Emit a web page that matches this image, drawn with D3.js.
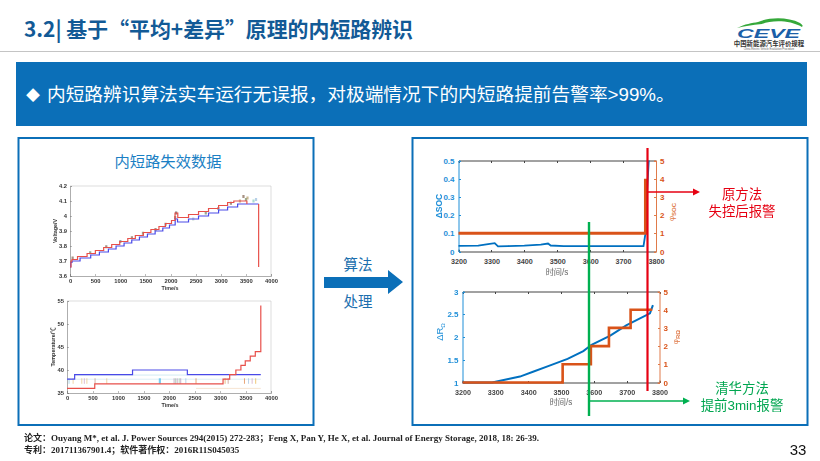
<!DOCTYPE html>
<html>
<head>
<meta charset="utf-8">
<script src="https://cdn.jsdelivr.net/npm/d3@7"></script>
<style>
body { margin: 0; background: #fff; }
svg { display: block; }
text { font-family: "Liberation Sans", "Noto Sans CJK SC", sans-serif; }
.tick line { shape-rendering: crispEdges; }
</style>
</head>
<body>
<div id="chart"></div>
<script>
// voltage plot (left top)
var voltTicksX = [0, 500, 1000, 1500, 2000, 2500, 3000, 3500, 4000];
var voltTicksY = [3.6, 3.7, 3.8, 3.9, 4, 4.1, 4.2];
var voltLowT = [0, 15, 40, 200, 412, 585, 764, 917, 1076, 1229, 1382, 1541, 1694, 1847, 1980, 2093, 2140, 2359, 2558, 2757, 2957, 3136, 3336, 3754];
var voltLowV = [3.66, 3.69, 3.70, 3.72, 3.74, 3.76, 3.78, 3.80, 3.82, 3.84, 3.86, 3.88, 3.90, 3.92, 3.94, 3.98, 3.96, 3.98, 4.00, 4.02, 4.04, 4.06, 4.08, 4.08];
var voltHighT = [0, 20, 40, 150, 340, 505, 670, 830, 990, 1150, 1300, 1460, 1610, 1770, 1900, 2020, 2090, 2145, 2359, 2558, 2757, 2957, 3136, 3260, 3520];
var voltHighV = [3.66, 3.70, 3.71, 3.73, 3.75, 3.77, 3.79, 3.81, 3.83, 3.85, 3.87, 3.89, 3.91, 3.93, 3.95, 3.97, 4.02, 3.99, 4.01, 4.03, 4.05, 4.07, 4.09, 4.10, 4.08];
var voltDropT = [3754, 3754];
var voltDropV = [4.08, 3.66];
var voltMarkT = [50, 400, 720, 1000, 1230, 1450, 1700, 1900, 2090, 2110, 2450, 2700, 2950, 3200, 3380, 3450, 3500, 3530, 3650, 3700];
var voltMarkV = [3.72, 3.755, 3.795, 3.83, 3.855, 3.885, 3.91, 3.945, 3.99, 4.02, 3.98, 4.02, 4.05, 4.085, 4.10, 4.13, 4.11, 4.12, 4.10, 4.11];
var voltMarkC = ["#8a6d5a", "#7a8f6a", "#8a6d5a", "#6f8f9a", "#8a6d5a", "#7a8f6a", "#8a6d5a", "#6f8f9a", "#8a6d5a", "#555555", "#b8d0c0", "#7a8f6a", "#6f8f9a", "#8a6d5a", "#b8a070", "#8a6d5a", "#7a8f6a", "#b8a070", "#8fd0c0", "#a0c0e0"];

// temperature plot (left bottom)
var tempTicksX = [0, 500, 1000, 1500, 2000, 2500, 3000, 3500, 4000];
var tempTicksY = [35, 40, 45, 50, 55];
var tempLowT = [0, 544, 3060, 3190, 3311, 3410, 3495, 3593, 3692, 3800];
var tempLowV = [36, 37, 38, 39, 40, 41, 42, 43, 44, 54];
var tempHighT = [0, 150, 1285, 2360, 3800];
var tempHighV = [38, 39, 40, 39, 39];
var tempFaintV = [38.9, 38, 36];
var tempFaintStart = [150, 0, 2530];
var tempFaintEnd = [2360, 3800, 3800];
var tempFaintC = ["#bfe3ee", "#cfe6f2", "#f2d9c0"];
var tempMarkT = [40, 120, 290, 340, 390, 550, 780, 1810, 1830, 2100, 2130, 2160, 2200, 2230, 2330, 2530, 3100, 3160, 3480, 3560, 3630, 3700];
var tempMarkC = ["#8fc8e0", "#e8c080", "#e8c080", "#d0a0c0", "#e8c080", "#c09080", "#e8c080", "#30b0e8", "#30b0e8", "#b090b0", "#a0c0a0", "#b090b0", "#a0c0a0", "#b090b0", "#a0c0e0", "#e08040", "#e0a050", "#c09080", "#e08040", "#a0c0e0", "#d0a0c0", "#e8b040"];

// delta SOC plot (right top)
var socTicksX = [3200, 3300, 3400, 3500, 3600, 3700, 3800];
var socTicksL = [0, 0.1, 0.2, 0.3, 0.4, 0.5];
var socTicksR = [0, 1, 2, 3, 4, 5];
var socT = [3200, 3260, 3290, 3310, 3320, 3350, 3400, 3450, 3472, 3480, 3520, 3600, 3700, 3762, 3768, 3772, 3778];
var socV = [0.031, 0.032, 0.040, 0.046, 0.028, 0.030, 0.032, 0.038, 0.044, 0.033, 0.030, 0.029, 0.030, 0.030, 0.10, 0.30, 0.50];
var phiSocT = [3200, 3768, 3768];
var phiSocV = [1, 1, 4];

// delta R plot (right bottom)
var resTicksX = [3200, 3300, 3400, 3500, 3600, 3700, 3800];
var resTicksL = [1, 1.5, 2, 2.5, 3];
var resTicksR = [0, 1, 2, 3, 4, 5];
var resT = [3200, 3290, 3375, 3461, 3520, 3568, 3593, 3650, 3700, 3771, 3780];
var resV = [1, 1, 1.13, 1.36, 1.52, 1.69, 1.83, 2.03, 2.26, 2.52, 2.7];
var phiResT = [3200, 3505, 3591, 3646, 3712, 3778];
var phiResV = [0, 1, 2, 3, 4, 4];

var blue = "#0070c0", orange = "#d95319", axisBlue = "#1f8fd8", axisOrange = "#e07b4a";
var red = "#e60012", green = "#00b050";
var cjkFirst = '"Noto Sans CJK SC", "Liberation Sans", sans-serif';

var svg = d3.select("#chart").append("svg").attr("width", 820).attr("height", 461);

svg.append("defs").html('<filter id="soft" x="-5%" y="-5%" width="110%" height="110%"><feGaussianBlur stdDeviation="0.3"/></filter>');

// header
svg.append("text").attr("x", 24).attr("y", 37).attr("font-size", 20.9).attr("font-weight", "bold")
    .attr("fill", "#125a96").style("font-family", cjkFirst).text("3.2| 基于“平均+差异”原理的内短路辨识");
svg.append("line").attr("x1", 0).attr("x2", 820).attr("y1", 51.5).attr("y2", 51.5).attr("stroke", "#c4c4c4");

// logo
svg.append("path").attr("d", "M737 28 C745 24 752 23 758 22 C770 17 788 17 800 23 C803 25 803 26 802 27 C790 20 772 20 762 24 C752 25 744 26 737 28 Z").attr("fill", "#35a83a");
svg.append("text").attr("x", 737).attr("y", 37.5).attr("font-size", 13).attr("font-style", "italic").attr("font-weight", "bold")
    .attr("fill", "#1b5fa8").attr("textLength", 63).attr("lengthAdjust", "spacingAndGlyphs").text("CEVE");
svg.append("text").attr("x", 769).attr("y", 46).attr("text-anchor", "middle").attr("font-size", 6.4).attr("font-weight", "bold")
    .attr("fill", "#333").text("中国新能源汽车评价规程");
svg.append("text").attr("x", 769).attr("y", 50.3).attr("text-anchor", "middle").attr("font-size", 2.6)
    .attr("fill", "#666").text("China Electric Vehicle Evaluation Procedure");

// blue band
svg.append("rect").attr("x", 16).attr("y", 62).attr("width", 791).attr("height", 64).attr("fill", "#0b6fb8");
svg.append("text").attr("x", 26).attr("y", 100).attr("font-size", 14).attr("fill", "#fff").text("◆");
svg.append("text").attr("x", 47).attr("y", 101).attr("font-size", 18.7).attr("fill", "#fff")
    .text("内短路辨识算法实车运行无误报，对极端情况下的内短路提前告警率>99%。");

// panels
[[18.5, 295], [412.5, 395]].forEach(function (p) {
    svg.append("rect").attr("x", p[0]).attr("y", 138).attr("width", p[1]).attr("height", 287)
        .attr("fill", "#fff").attr("stroke", "#0b6fb8").attr("stroke-width", 2);
});
svg.append("text").attr("x", 168).attr("y", 167).attr("text-anchor", "middle").attr("font-size", 15.3)
    .attr("fill", "#1b7fc4").text("内短路失效数据");

// middle arrow
svg.append("text").attr("x", 358).attr("y", 270).attr("text-anchor", "middle").attr("font-size", 14.5).attr("fill", "#1b6fae").text("算法");
svg.append("text").attr("x", 358).attr("y", 307).attr("text-anchor", "middle").attr("font-size", 14.5).attr("fill", "#1b6fae").text("处理");
svg.append("path").attr("d", "M324 277H388V270L403 282L388 294V288H324Z").attr("fill", "#0b6fb8");

// plot helper for the small left charts
function leftPlot(box, xDomain, yDomain, xTicks, yTicks) {
    var x = d3.scaleLinear().domain(xDomain).range([box.x0, box.x1]);
    var y = d3.scaleLinear().domain(yDomain).range([box.y1, box.y0]);
    var g = svg.append("g").attr("filter", "url(#soft)");
    g.append("g").attr("transform", `translate(0,${box.y1})`)
        .call(d3.axisBottom(x).tickValues(xTicks).tickSize(-2).tickPadding(3).tickFormat(d3.format("d")));
    g.append("g").attr("transform", `translate(${box.x0},0)`)
        .call(d3.axisLeft(y).tickValues(yTicks).tickSize(-2).tickPadding(3).tickFormat(d3.format("~g")));
    g.append("path").attr("d", `M${box.x0},${box.y0}H${box.x1}V${box.y1}`).attr("fill", "none").attr("stroke", "#bbb").attr("stroke-width", 0.5);
    g.selectAll(".domain").attr("stroke", "#777").attr("stroke-width", 0.6);
    g.selectAll(".tick line").attr("stroke", "#777").attr("stroke-width", 0.5);
    g.selectAll(".tick text").attr("font-size", 5.8).attr("font-weight", "bold").attr("fill", "#333");
    return { x: x, y: y, g: g };
}

function stepPath(p, ts, vs, color, width) {
    var line = d3.line().curve(d3.curveStepAfter).x(function (d) { return p.x(d[0]); }).y(function (d) { return p.y(d[1]); });
    p.g.append("path").attr("d", line(d3.zip(ts, vs))).attr("fill", "none").attr("stroke", color).attr("stroke-width", width);
}

// voltage
var vp = leftPlot({ x0: 70, x1: 271, y0: 186, y1: 276 }, [0, 4000], [3.6, 4.2], voltTicksX, voltTicksY);
vp.g.selectAll("rect.mark").data(d3.zip(voltMarkT, voltMarkV, voltMarkC)).enter().append("rect").attr("class", "mark")
    .attr("x", function (d) { return vp.x(d[0]) - 1; }).attr("y", function (d) { return vp.y(d[1]) - 1.5; })
    .attr("width", 2.2).attr("height", 3).attr("fill", function (d) { return d[2]; }).attr("opacity", 0.75);
stepPath(vp, voltLowT, voltLowV, "#4a4ae8", 1.2);
stepPath(vp, voltHighT, voltHighV, "#e8504a", 1.2);
stepPath(vp, voltDropT, voltDropV, "#e8504a", 1.2);
svg.append("text").attr("transform", "translate(57,231) rotate(-90)").attr("text-anchor", "middle")
    .attr("font-size", 5.4).attr("font-weight", "bold").attr("fill", "#333").text("Voltage/V");
svg.append("text").attr("x", 170).attr("y", 290).attr("text-anchor", "middle")
    .attr("font-size", 5.4).attr("font-weight", "bold").attr("fill", "#333").text("Time/s");

// temperature
var tp = leftPlot({ x0: 67, x1: 271, y0: 301, y1: 393 }, [0, 4000], [35, 55], tempTicksX, tempTicksY);
tp.g.selectAll("line.faint").data(d3.zip(tempFaintStart, tempFaintEnd, tempFaintV, tempFaintC)).enter().append("line").attr("class", "faint")
    .attr("x1", function (d) { return tp.x(d[0]); }).attr("x2", function (d) { return tp.x(d[1]); })
    .attr("y1", function (d) { return tp.y(d[2]); }).attr("y2", function (d) { return tp.y(d[2]); })
    .attr("stroke", function (d) { return d[3]; }).attr("stroke-width", 0.7);
tp.g.selectAll("line.mark").data(d3.zip(tempMarkT, tempMarkC)).enter().append("line").attr("class", "mark")
    .attr("x1", function (d) { return tp.x(d[0]); }).attr("x2", function (d) { return tp.x(d[0]); })
    .attr("y1", tp.y(37)).attr("y2", tp.y(38.2)).attr("stroke", function (d) { return d[1]; }).attr("stroke-width", 1).attr("opacity", 0.7);
stepPath(tp, tempHighT, tempHighV, "#4a4ae8", 1.2);
stepPath(tp, tempLowT, tempLowV, "#e8504a", 1.2);
svg.append("text").attr("transform", "translate(55,347) rotate(-90)").attr("text-anchor", "middle")
    .attr("font-size", 5.4).attr("font-weight", "bold").attr("fill", "#333").text("Temperature/℃");
svg.append("text").attr("x", 170).attr("y", 407).attr("text-anchor", "middle")
    .attr("font-size", 5.4).attr("font-weight", "bold").attr("fill", "#333").text("Time/s");

// two-axis plots on the right
function rightPlot(box, leftDomain, ticksL, ticksR, ticksX) {
    var x = d3.scaleLinear().domain([3200, 3800]).range([box.x0, box.x1]);
    var yL = d3.scaleLinear().domain(leftDomain).range([box.y1, box.y0]);
    var yR = d3.scaleLinear().domain([0, 5]).range([box.y1, box.y0]);
    var g = svg.append("g");
    var xAxis = g.append("g").attr("transform", `translate(0,${box.y1})`)
        .call(d3.axisBottom(x).tickValues(ticksX).tickSize(-2).tickPadding(7).tickFormat(d3.format("d")));
    g.append("g").attr("transform", `translate(0,${box.y0})`)
        .call(d3.axisTop(x).tickValues(ticksX).tickSize(-2).tickFormat(""))
        .selectAll(".domain,.tick line").attr("stroke", "#444");
    xAxis.selectAll(".domain,.tick line").attr("stroke", "#444");
    xAxis.selectAll("text").attr("font-size", 7.2).attr("font-weight", "bold").attr("fill", "#444");
    var left = g.append("g").attr("transform", `translate(${box.x0},0)`)
        .call(d3.axisLeft(yL).tickValues(ticksL).tickSize(-2).tickPadding(4).tickFormat(d3.format("~g")));
    left.selectAll(".domain,.tick line").attr("stroke", axisBlue);
    left.selectAll("text").attr("font-size", 8).attr("font-weight", "bold").attr("fill", axisBlue);
    var right = g.append("g").attr("transform", `translate(${box.x1},0)`)
        .call(d3.axisRight(yR).tickValues(ticksR).tickSize(-2).tickPadding(4).tickFormat(d3.format("d")));
    right.selectAll(".domain,.tick line").attr("stroke", axisOrange);
    right.selectAll("text").attr("font-size", 8).attr("font-weight", "bold").attr("fill", orange);
    return { x: x, yL: yL, yR: yR, g: g };
}

var sp = rightPlot({ x0: 458.5, x1: 656, y0: 160.5, y1: 251.5 }, [0, 0.5], socTicksL, socTicksR, socTicksX);
var socLine = d3.line().x(function (d) { return sp.x(d[0]); }).y(function (d) { return sp.yL(d[1]); });
var socPhiLine = d3.line().x(function (d) { return sp.x(d[0]); }).y(function (d) { return sp.yR(d[1]); });
sp.g.append("path").attr("d", socLine(d3.zip(socT, socV))).attr("fill", "none").attr("stroke", blue).attr("stroke-width", 1.8);
sp.g.append("path").attr("d", socPhiLine(d3.zip(phiSocT, phiSocV))).attr("fill", "none").attr("stroke", orange).attr("stroke-width", 3);

var rp = rightPlot({ x0: 462.5, x1: 659.5, y0: 291.5, y1: 382.5 }, [1, 3], resTicksL, resTicksR, resTicksX);
var resLine = d3.line().x(function (d) { return rp.x(d[0]); }).y(function (d) { return rp.yL(d[1]); });
var resPhiLine = d3.line().curve(d3.curveStepAfter).x(function (d) { return rp.x(d[0]); }).y(function (d) { return rp.yR(d[1]); });
rp.g.append("path").attr("d", resLine(d3.zip(resT, resV))).attr("fill", "none").attr("stroke", blue).attr("stroke-width", 2);
rp.g.append("path").attr("d", resPhiLine(d3.zip(phiResT, phiResV))).attr("fill", "none").attr("stroke", orange).attr("stroke-width", 2.6);

// axis titles
svg.append("text").attr("x", 557).attr("y", 275).attr("text-anchor", "middle").attr("font-size", 8.2).attr("fill", "#666").text("时间/s");
svg.append("text").attr("x", 561).attr("y", 405).attr("text-anchor", "middle").attr("font-size", 8.2).attr("fill", "#666").text("时间/s");
svg.append("text").attr("transform", "translate(442,206) rotate(-90)").attr("text-anchor", "middle").attr("font-size", 8.5).attr("font-weight", "bold").attr("fill", axisBlue).text("ΔSOC");
svg.append("text").attr("transform", "translate(443,332) rotate(-90)").attr("text-anchor", "middle").attr("font-size", 9.5).attr("fill", axisBlue).html('ΔR<tspan font-size="6" dy="1.5">Ω</tspan>');
svg.append("text").attr("transform", "translate(674,212) rotate(-90)").attr("text-anchor", "middle").attr("font-size", 8).attr("fill", axisOrange).html('φ<tspan font-size="6" font-weight="bold" dy="1.5">SOC</tspan>');
svg.append("text").attr("transform", "translate(678,337) rotate(-90)").attr("text-anchor", "middle").attr("font-size", 8).attr("fill", axisOrange).html('φ<tspan font-size="6" font-weight="bold" dy="1.5">RΩ</tspan>');

// alarm lines and arrows
svg.append("line").attr("x1", 647.5).attr("x2", 647.5).attr("y1", 148).attr("y2", 391).attr("stroke", red).attr("stroke-width", 2.2);
svg.append("line").attr("x1", 589).attr("x2", 589).attr("y1", 222).attr("y2", 416).attr("stroke", green).attr("stroke-width", 2.4);
svg.append("path").attr("d", "M647 192H695").attr("stroke", red).attr("stroke-width", 1.5).attr("fill", "none");
svg.append("path").attr("d", "M693 188.5L700 192L693 195.5Z").attr("fill", red);
svg.append("path").attr("d", "M589 401H685").attr("stroke", green).attr("stroke-width", 1.5).attr("fill", "none");
svg.append("path").attr("d", "M683 397.5L690 401L683 404.5Z").attr("fill", green);

// callouts
svg.append("text").attr("x", 742).attr("y", 199).attr("text-anchor", "middle").attr("font-size", 13.4).attr("fill", "#e60012").text("原方法");
svg.append("text").attr("x", 742).attr("y", 216).attr("text-anchor", "middle").attr("font-size", 13.4).attr("fill", "#e60012").text("失控后报警");
svg.append("text").attr("x", 742).attr("y", 393).attr("text-anchor", "middle").attr("font-size", 13.4).attr("fill", "#00a650").text("清华方法");
svg.append("text").attr("x", 742).attr("y", 410).attr("text-anchor", "middle").attr("font-size", 13.4).attr("fill", "#00a650").text("提前3min报警");

// footer
svg.append("text").attr("x", 24).attr("y", 441).attr("font-size", 9).attr("font-weight", "bold").attr("fill", "#222")
    .style("font-family", '"Liberation Serif", "Noto Sans CJK SC", serif')
    .text("论文：Ouyang M*, et al. J. Power Sources 294(2015) 272-283；Feng X, Pan Y, He X, et al. Journal of Energy Storage, 2018, 18: 26-39.");
svg.append("text").attr("x", 24).attr("y", 453).attr("font-size", 9).attr("font-weight", "bold").attr("fill", "#222")
    .style("font-family", '"Liberation Serif", "Noto Sans CJK SC", serif')
    .text("专利：201711367901.4；软件著作权：2016R11S045035");
svg.append("text").attr("x", 798).attr("y", 455).attr("text-anchor", "middle").attr("font-size", 15).attr("fill", "#111").text("33");
</script>
</body>
</html>
